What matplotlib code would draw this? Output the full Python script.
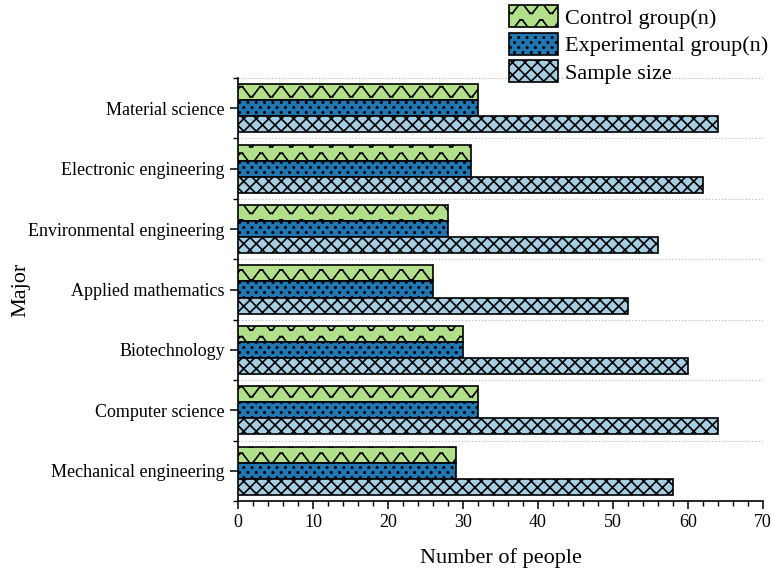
import warnings
import numpy as np
import matplotlib
matplotlib.use("Agg")
import matplotlib.pyplot as plt
from matplotlib import hatch as mhatch
from matplotlib.path import Path
from matplotlib.ticker import MultipleLocator, FixedLocator

warnings.filterwarnings("ignore", message="hatch must consist")

# ---------------------------------------------------------------- data
majors = ["Mechanical engineering", "Computer science", "Biotechnology",
          "Applied mathematics", "Environmental engineering",
          "Electronic engineering", "Material science"]
control = [29, 32, 30, 26, 28, 31, 32]
experimental = [29, 32, 30, 26, 28, 31, 32]
sample_size = [58, 64, 60, 52, 56, 62, 64]
series_labels = ["Control group(n)", "Experimental group(n)", "Sample size"]
xticks = [0, 10, 20, 30, 40, 50, 60, 70]


# ---------------------------------------------------------------- hatches
class WaveHatch(mhatch.HatchPatternBase):
    """Rows of flat-topped waves, selected by 'z'."""
    rows, periods, amp = 6, 5, 0.05
    # fractions of one period: flat top, descent, flat bottom, ascent
    knots = [(0.0, 1), (0.12, 1), (0.5, -1), (0.62, -1), (1.0, 1)]

    def __init__(self, hatch, density):
        nseg = len(self.knots) - 1
        self.num_vertices = (self.rows * self.periods * nseg * 2
                             if "z" in hatch else 0)

    def set_vertices_and_codes(self, vertices, codes):
        k = 0
        for r in range(self.rows):
            y0 = (r + 0.5) / self.rows
            for p in range(self.periods):
                pts = [((p + f) / self.periods, y0 + s * self.amp)
                       for f, s in self.knots]
                for a, b in zip(pts[:-1], pts[1:]):
                    vertices[k] = a
                    vertices[k + 1] = b
                    codes[k] = Path.MOVETO
                    codes[k + 1] = Path.LINETO
                    k += 2


class CrossHatch(mhatch.HatchPatternBase):
    """Fine diagonal cross-hatch, selected by 'c'."""
    n = 16

    def __init__(self, hatch, density):
        self.num_vertices = (self.n + 1) * 4 if "c" in hatch else 0

    def set_vertices_and_codes(self, vertices, codes):
        steps = np.linspace(-0.5, 0.5, self.n + 1)
        h = (self.n + 1) * 2
        ne, se = vertices[:h], vertices[h:]
        ne[0::2, 0] = 0.0 + steps
        ne[0::2, 1] = 0.0 - steps
        ne[1::2, 0] = 1.0 + steps
        ne[1::2, 1] = 1.0 - steps
        se[0::2, 0] = 0.0 + steps
        se[0::2, 1] = 1.0 + steps
        se[1::2, 0] = 1.0 + steps
        se[1::2, 1] = 0.0 + steps
        codes[0::2] = Path.MOVETO
        codes[1::2] = Path.LINETO


class DotHatch(mhatch.HatchPatternBase):
    """Staggered small filled dots, selected by 'd'."""
    rows, cols, radius = 20, 12, 0.007

    def __init__(self, hatch, density):
        circle = Path.unit_circle()
        self.shape_vertices = circle.vertices
        self.shape_codes = circle.codes
        self.num_vertices = (self.rows * self.cols * len(circle.vertices)
                             if "d" in hatch else 0)

    def set_vertices_and_codes(self, vertices, codes):
        vparts, cparts = [], []
        for r in range(self.rows):
            y = (r + 0.5) / self.rows
            for c in range(self.cols):
                x = (c + 0.25 + 0.5 * (r % 2)) / self.cols
                vparts.append(self.shape_vertices * self.radius + [x, y])
                cparts.append(self.shape_codes)
        np.concatenate(vparts, out=vertices)
        np.concatenate(cparts, out=codes)


mhatch._hatch_types.extend([WaveHatch, CrossHatch, DotHatch])

# ---------------------------------------------------------------- style
plt.rcParams["font.family"] = ["Liberation Serif", "DejaVu Serif"]
plt.rcParams["hatch.linewidth"] = 1.2
plt.rcParams["hatch.color"] = "black"

colors = ["#b2df8a", "#1f78b4", "#a6cee3"]
hatches = ["z", "d", "c"]

fig = plt.figure(figsize=(7.72, 5.72), dpi=100)
ax = fig.add_axes([238 / 772, 1 - 501 / 572, (763 - 238) / 772, (501 - 78) / 572])

y = np.arange(len(majors))
h = 0.265
offsets = [h, 0.0, -h]
handles = []
for vals, off, col, hat, lab in zip([control, experimental, sample_size],
                                     offsets, colors, hatches, series_labels):
    bars = ax.barh(y + off, vals, height=h, color=col, edgecolor="black",
                   linewidth=1.2, hatch=hat, label=lab, zorder=3)
    handles.append(bars)

ax.set_xlim(0, 70)
ax.set_ylim(-0.5, len(majors) - 0.5)
ax.set_xticks(xticks)
ax.xaxis.set_minor_locator(MultipleLocator(2))
ax.set_yticks(y)
ax.set_yticklabels(majors)
ax.yaxis.set_minor_locator(FixedLocator(np.arange(-0.5, len(majors), 1.0)))

ax.grid(which="minor", axis="y", linestyle=(0, (1.5, 1.5)), color="#c8c8c8",
        linewidth=0.8, zorder=0)
ax.set_axisbelow(True)

for side in ("top", "right"):
    ax.spines[side].set_visible(False)
for side in ("left", "bottom"):
    ax.spines[side].set_linewidth(1.2)

ax.tick_params(which="major", direction="out", length=6, width=1.1,
               labelsize=13, colors="black")
ax.tick_params(which="minor", direction="out", length=3.5, width=1.0)

ax.set_xlabel("Number of people", fontsize=16, labelpad=12)
ax.set_ylabel("Major", fontsize=16)
ax.yaxis.set_label_coords((30 - 238) / 525, 0.5)

fig.legend(handles=handles, labels=series_labels, loc="upper left",
           bbox_to_anchor=(509 / 772, 1 - 5 / 572), frameon=False,
           fontsize=16, borderpad=0, borderaxespad=0, handlelength=2.2,
           handleheight=1.15, labelspacing=0.18, handletextpad=0.3)

fig.savefig("out.png", dpi=100)
